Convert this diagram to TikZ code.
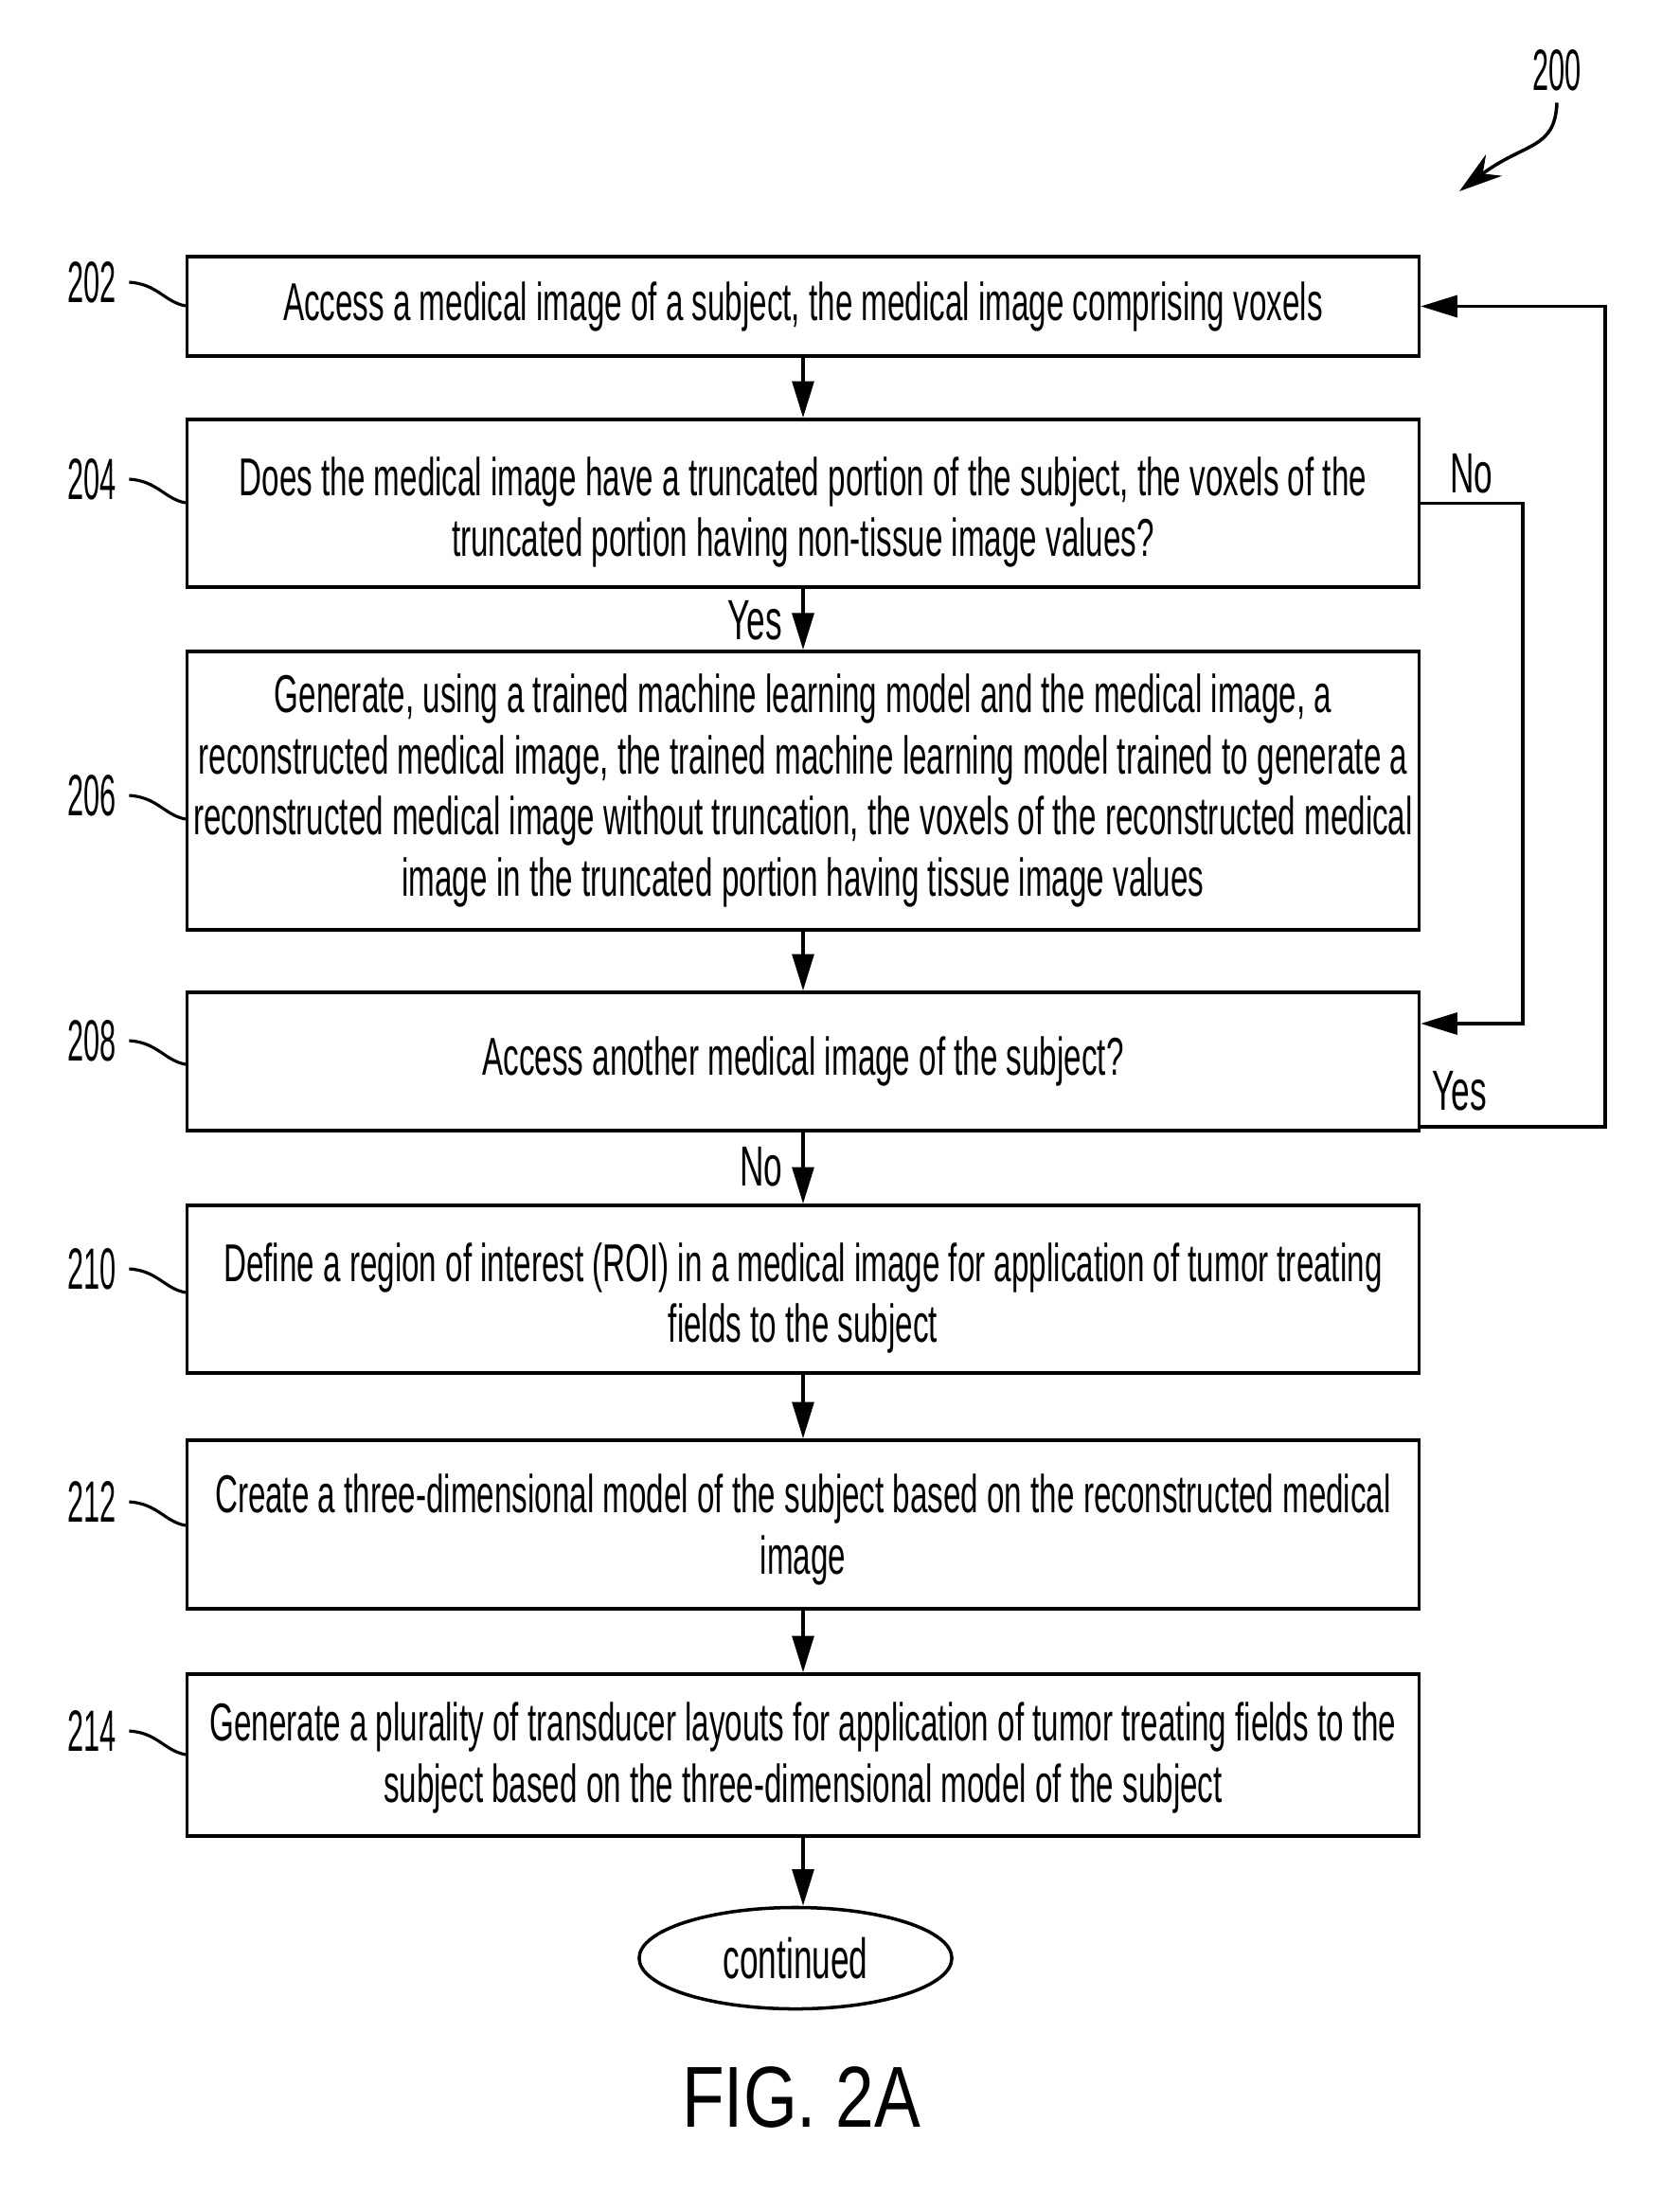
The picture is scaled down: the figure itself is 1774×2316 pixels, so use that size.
\documentclass[tikz,border=0pt]{standalone}
\usepackage{fontspec}
\setmainfont{Liberation Sans}
\newfontfamily\narrowfont[FakeStretch=0.59]{Liberation Sans}
\newfontfamily\numfont[FakeStretch=0.5]{Liberation Sans}
\newfontfamily\figfont[FakeStretch=0.8]{Liberation Sans}
\usetikzlibrary{arrows.meta,shapes.geometric}
\newcommand\toplift[1]{\rule{0pt}{#1}}
\tikzset{
  stepbox/.style={draw, line width=1pt, minimum width=13cm, inner sep=0pt, align=center,
    font=\narrowfont\fontsize{16}{18.4}\selectfont},
  reflbl/.style={inner sep=0pt, font=\numfont\fontsize{17.5}{20}\selectfont},
  yn/.style={inner sep=0pt, font=\narrowfont\fontsize{17}{20}\selectfont},
  arr/.style={line width=1pt, -{Triangle[length=11pt,width=6.5pt]}},
  leader/.style={line width=0.9pt},
}
\begin{document}
\begin{tikzpicture}[x=0.01cm,y=-0.01cm]
\useasboundingbox[fill=white] (0,0) rectangle (1774,2316);

% boxes
\node[stepbox, minimum height=1.05cm] (b202) at (848,323.5)
  {Access a medical image of a subject, the medical image comprising voxels};
\node[stepbox, minimum height=1.77cm] (b204) at (848,531.5)
  {\toplift{17pt}Does the medical image have a truncated portion of the subject, the voxels of the\\truncated portion having non-tissue image values?};
\node[stepbox, minimum height=2.94cm] (b206) at (848,835)
  {Generate, using a trained machine learning model and the medical image, a\\reconstructed medical image, the trained machine learning model trained to generate a\\reconstructed medical image without truncation, the voxels of the reconstructed medical\\image in the truncated portion having tissue image values};
\node[stepbox, minimum height=1.46cm] (b208) at (848,1121)
  {Access another medical image of the subject?};
\node[stepbox, minimum height=1.77cm] (b210) at (848,1361.5)
  {\toplift{17pt}Define a region of interest (ROI) in a medical image for application of tumor treating\\fields to the subject};
\node[stepbox, minimum height=1.78cm] (b212) at (848,1610)
  {\toplift{14.7pt}Create a three-dimensional model of the subject based on the reconstructed medical\\image};
\node[stepbox, minimum height=1.71cm] (b214) at (848,1853.5)
  {\toplift{13.4pt}Generate a plurality of transducer layouts for application of tumor treating fields to the\\subject based on the three-dimensional model of the subject};
\node[draw, ellipse, line width=1pt, minimum width=3.3cm, minimum height=1.07cm, inner sep=0pt,
  font=\narrowfont\fontsize{17}{20}\selectfont] (cont) at (840,2068) {continued};

\node[inner sep=0pt, font=\figfont\fontsize{26}{30}\selectfont] (fig) at (846,2215) {FIG. 2A};

% reference labels
\node[reflbl] (l200) at (1644,74) {200};
\node[reflbl] (l202) at (97,298) {202};
\node[reflbl] (l204) at (97,506) {204};
\node[reflbl] (l206) at (97,840) {206};
\node[reflbl] (l208) at (97,1099) {208};
\node[reflbl] (l210) at (97,1340) {210};
\node[reflbl] (l212) at (97,1586) {212};
\node[reflbl] (l214) at (97,1828) {214};

\foreach \n/\y in {202/323, 204/531, 206/865, 208/1124, 210/1365, 212/1611, 214/1853}{
  \draw[leader] ([xshift=0.13cm]l\n.east) .. controls +(30,2) and +(-22,-4) .. (b\n.west |- 0,\y);
}

% 200 arrow
\coordinate (t200) at (1541,202);
\draw[line width=1pt, -{Stealth[length=13pt,width=8pt]}] ([yshift=-0.12cm]l200.south) .. controls +(-2,50) and (1610,150) .. (t200);

% main flow
\draw[arr] (b202.south) -- (b204.north);
\draw[arr] (b204.south) -- (b206.north);
\draw[arr] (b206.south) -- (b208.north);
\draw[arr] (b208.south) -- (b210.north);
\draw[arr] (b210.south) -- (b212.north);
\draw[arr] (b212.south) -- (b214.north);
\draw[arr] (b214.south) -- (b214.south |- cont.north);

\node[yn] (yes1) at (797,655) {Yes};
\node[yn] (no2) at (804,1232) {No};

% No loop from 204 to 208
\coordinate (n1) at (1608,1081);
\draw[arr] (b204.east) -| (n1) -- (b208.east |- n1);
\node[yn] (no1) at (1554,500) {No};

% Yes loop from 208 to 202
\coordinate (y1) at (1695,1190);
\draw[arr] (b208.east |- y1) -- (y1) |- (b202.east);
\node[yn] (yes2) at (1541,1152) {Yes};
\end{tikzpicture}
\end{document}
